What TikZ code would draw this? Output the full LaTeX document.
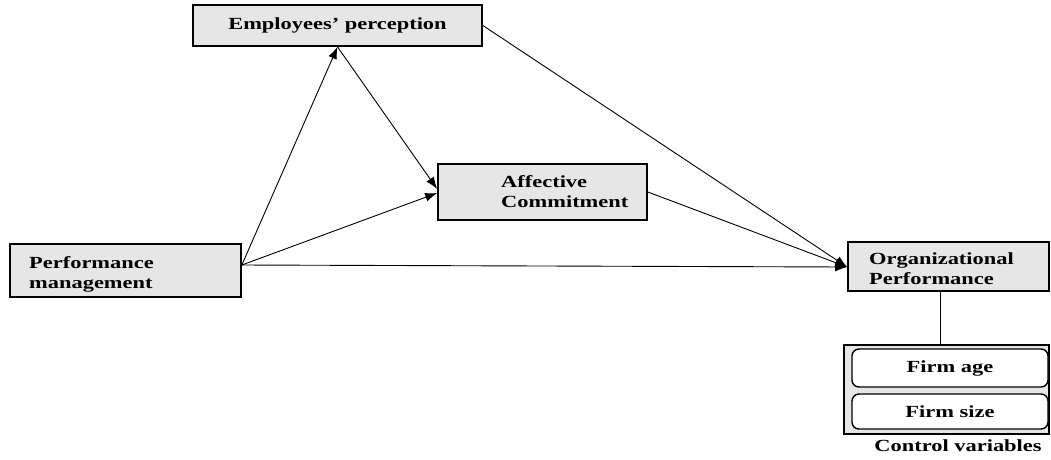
\documentclass[tikz,border=0pt]{standalone}
\usepackage{fontspec}
\setmainfont{Liberation Serif}[FakeStretch=1.32]
\usetikzlibrary{arrows.meta,positioning}
\definecolor{boxgray}{RGB}{230,230,230}
\tikzset{
  varbox/.style={draw, line width=1.7pt, fill=boxgray, inner sep=0pt},
  ctrlbox/.style={draw, line width=1.4pt, rounded corners=7pt, fill=white, inner sep=0pt},
  lbl/.style={align=left, inner sep=0pt},
  link/.style={-{Latex[length=12pt,width=9pt]}, line width=0.9pt},
}
\begin{document}
\begin{tikzpicture}[x=1pt,y=-1pt,font=\fontsize{17}{20}\selectfont\bfseries]
		\useasboundingbox (0,0) rectangle (1051,459);
		\node[varbox, minimum width=289pt, minimum height=41pt] (ep) at (337.5,25.5) {Employees' perception};
		\node[varbox, minimum width=231pt, minimum height=53pt] (pm) at (125.5,270.5) {};
		\node[varbox, minimum width=209pt, minimum height=56pt] (ac) at (542.5,192) {};
		\node[varbox, minimum width=201pt, minimum height=49pt] (op) at (948.5,266.5) {};
		\node[varbox, minimum width=205pt, minimum height=89pt] (ctrl) at (946.5,389.5) {};
		\node[lbl, anchor=west] (pmtxt) at (29,274) {Performance\\management};
		\node[lbl, anchor=west] (actxt) at (501,191.5) {Affective\\Commitment};
		\node[lbl, anchor=west] (optxt) at (869,269) {Organizational\\Performance};
		\node[ctrlbox, minimum width=196pt, minimum height=38pt] (age) at (950,368) {Firm age};
		\node[ctrlbox, minimum width=196pt, minimum height=35pt] (size) at (950,411.5) {Firm size};
		\node[lbl] (ctrltxt) at (958,446) {Control variables};
		\coordinate (pmout) at ([yshift=5.5pt]pm.east);
		\coordinate (opin) at ([yshift=-0.5pt]op.west);
		\draw[link] (pmout) -- (ep.south);
		\draw[link] (ep.south) -- ([yshift=3pt]ac.west);
		\draw[link] (pmout) -- ([yshift=-1pt]ac.west);
		\draw[link] (pmout) -- (opin);
		\draw[link] (ep.east) -- (opin);
		\draw[link] (ac.east) -- (opin);
		\draw[line width=0.9pt] ([xshift=-8pt]op.south) -- ([xshift=-8pt]op.south |- ctrl.north);
	\end{tikzpicture}
\end{document}
